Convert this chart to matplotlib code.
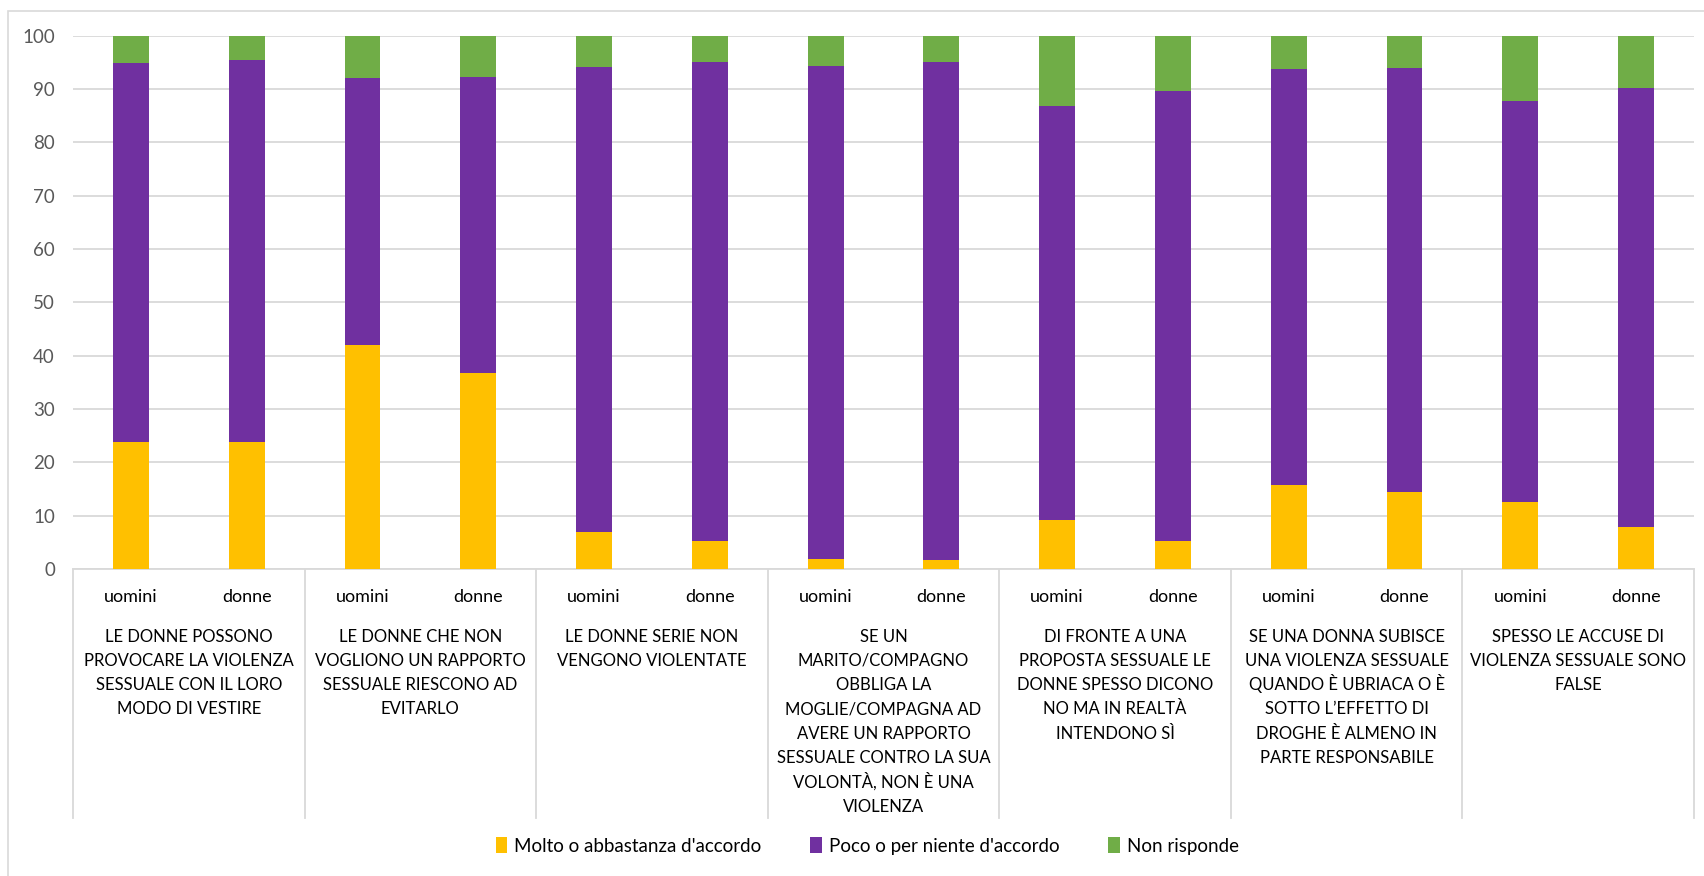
import matplotlib
matplotlib.use("Agg")
import matplotlib.pyplot as plt
from matplotlib.patches import Patch, Rectangle
from matplotlib.lines import Line2D
from matplotlib.transforms import blended_transform_factory

plt.rcParams['font.family'] = ['Lato', 'DejaVu Sans']

groups = [
    "LE DONNE POSSONO\nPROVOCARE LA VIOLENZA\nSESSUALE CON IL LORO\nMODO DI VESTIRE",
    "LE DONNE CHE NON\nVOGLIONO UN RAPPORTO\nSESSUALE RIESCONO AD\nEVITARLO",
    "LE DONNE SERIE NON\nVENGONO VIOLENTATE",
    "SE UN\nMARITO/COMPAGNO\nOBBLIGA LA\nMOGLIE/COMPAGNA AD\nAVERE UN RAPPORTO\nSESSUALE CONTRO LA SUA\nVOLONTÀ, NON È UNA\nVIOLENZA",
    "DI FRONTE A UNA\nPROPOSTA SESSUALE LE\nDONNE SPESSO DICONO\nNO MA IN REALTÀ\nINTENDONO SÌ",
    "SE UNA DONNA SUBISCE\nUNA VIOLENZA SESSUALE\nQUANDO È UBRIACA O È\nSOTTO L’EFFETTO DI\nDROGHE È ALMENO IN\nPARTE RESPONSABILE",
    "SPESSO LE ACCUSE DI\nVIOLENZA SESSUALE SONO\nFALSE",
]
sexes = ["uomini", "donne"]
series_names = ["Molto o abbastanza d'accordo", "Poco o per niente d'accordo", "Non risponde"]
molto = [23.8, 23.8, 42.0, 36.7, 7.0, 5.3, 1.9, 1.7, 9.1, 5.3, 15.8, 14.4, 12.6, 7.9]
poco = [71.1, 71.6, 50.1, 55.5, 87.1, 89.8, 92.5, 93.3, 77.8, 84.4, 77.9, 79.5, 75.1, 82.2]
non_risp = [5.1, 4.6, 7.9, 7.8, 6.1, 4.9, 5.6, 5.0, 13.3, 10.3, 6.3, 6.1, 12.3, 9.9]
yticks = [0, 10, 20, 30, 40, 50, 60, 70, 80, 90, 100]

colors = ["#FFC000", "#7030A0", "#70AD47"]
W, H = 1704, 876
fig = plt.figure(figsize=(W / 100, H / 100), dpi=100)

# outer chart border
fig.patches.append(Rectangle((8 / W, -0.5), 2.0, 1.5 - 11 / H, transform=fig.transFigure,
                             fill=False, edgecolor="#D9D9D9", linewidth=1.2))

ax_left, ax_right = 73 / W, 1694 / W
ax_bottom, ax_top = 1 - 569 / H, 1 - 35.7 / H
ax = fig.add_axes([ax_left, ax_bottom, ax_right - ax_left, ax_top - ax_bottom])

n = len(molto)
x = [i + 0.5 for i in range(n)]
bw = 0.31
bottoms2 = [a + b for a, b in zip(molto, poco)]
ax.bar(x, molto, width=bw, color=colors[0], zorder=3)
ax.bar(x, poco, width=bw, bottom=molto, color=colors[1], zorder=3)
ax.bar(x, non_risp, width=bw, bottom=bottoms2, color=colors[2], zorder=3)

ax.set_xlim(0, n)
ax.set_ylim(0, 100)
ax.set_yticks(yticks)
ax.set_yticklabels([str(v) for v in yticks], fontsize=13.5, color="#595959")
ax.tick_params(axis="y", length=0, pad=13)
ax.tick_params(axis="x", length=0, labelbottom=False)
ax.yaxis.grid(True, color="#D9D9D9", linewidth=1.3, zorder=0)
for s in ["top", "right", "left"]:
    ax.spines[s].set_visible(False)
ax.spines["bottom"].set_color("#D9D9D9")
ax.spines["bottom"].set_linewidth(1.3)

tr = blended_transform_factory(ax.transData, fig.transFigure)
# separators
for g in range(len(groups) + 1):
    fig.add_artist(Line2D([2 * g, 2 * g], [1 - 569 / H, 1 - 818 / H], transform=tr,
                          color="#D9D9D9", linewidth=1.3, clip_on=False))
# sex labels
for i in range(n):
    fig.text(x[i], 1 - 602 / H, sexes[i % 2], transform=tr, ha="center", va="baseline",
             fontsize=13, color="#000000")
# group labels, one line at a time for even spacing
line_step = 24.3
for g, lab in enumerate(groups):
    for k, line in enumerate(lab.split("\n")):
        fig.text(2 * g + 1, 1 - (641.5 + k * line_step) / H, line, transform=tr,
                 ha="center", va="baseline", fontsize=12, color="#000000")

handles = [Patch(facecolor=c, edgecolor="none") for c in colors]
fig.legend(handles, series_names, loc="center", bbox_to_anchor=(0.509, 1 - 846 / H),
           ncol=3, frameon=False, fontsize=13.5, handlelength=0.6, handleheight=0.9,
           handletextpad=0.4, columnspacing=2.6)

fig.savefig("out.png", dpi=100)
